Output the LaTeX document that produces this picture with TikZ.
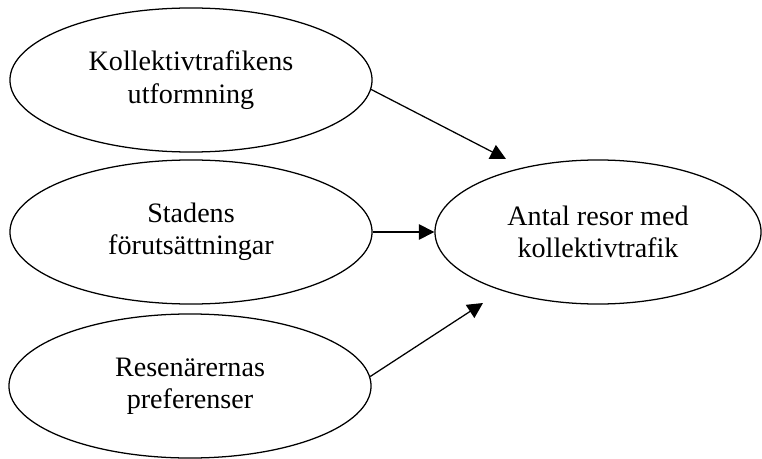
\documentclass[tikz,border=0pt]{standalone}
\usepackage{fontspec}
\setmainfont{Liberation Serif}
\usetikzlibrary{shapes.geometric,arrows.meta}
\tikzset{
  factor/.style={draw,ellipse,line width=0.9pt,minimum width=9.05cm,minimum height=3.6cm,
    align=center,font=\fontsize{20}{23}\selectfont,inner sep=0pt},
  effect/.style={factor,minimum width=8.15cm},
  link/.style={line width=0.9pt,-{Triangle[length=11pt,width=11pt]}}
}
\begin{document}
\begin{tikzpicture}[x=0.025cm,y=-0.025cm]
\useasboundingbox (0,0) rectangle (762,459);
\node[factor] (utf) at (191,80) {Kollektivtrafikens\\utformning};
\node[factor] (stad) at (191,232) {Stadens\\förutsättningar};
\node[factor] (pref) at (190,386) {Resenärernas\\preferenser};
\node[effect] (resor) at (598,232) {Antal resor med\\kollektivtrafik};
\coordinate (top) at (506,159);
\coordinate (bot) at (483,303);
\draw[link] (utf.-3) -- (top);
\draw[link] (stad.east) -- (resor.west);
\draw[link] (pref.3) -- (bot);
\end{tikzpicture}
\end{document}
